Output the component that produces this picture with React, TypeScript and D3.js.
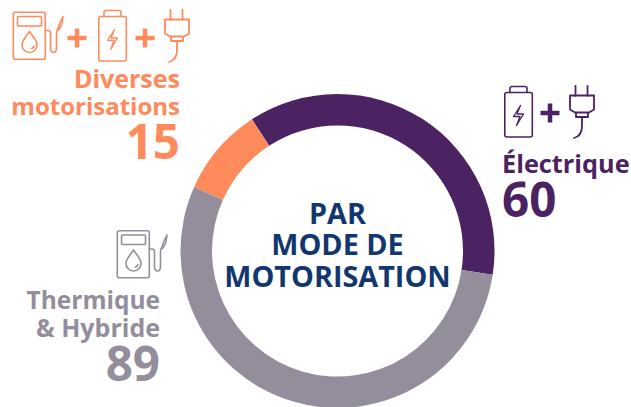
import React from 'react';
import * as d3 from 'd3';

const categories = ['Électrique', 'Thermique & Hybride', 'Diverses motorisations'];
const values = [60, 89, 15];
const colors = ['#4b2362', '#948e9c', '#ff8a5c'];
const titleLines = ['PAR', 'MODE DE', 'MOTORISATION'];

const width = 631;
const height = 407;
const cx = 337.5;
const cy = 251;
const startDeg = -33;

const font = '"Open Sans", sans-serif';

const pieGen = d3
    .pie<number>()
    .sort(null)
    .startAngle((startDeg * Math.PI) / 180)
    .endAngle(((startDeg + 360) * Math.PI) / 180);

const arcGen = d3.arc<d3.PieArcDatum<number>>().innerRadius(125.5).outerRadius(157);

const Pump = ({ x, y, color }) => (
    <g transform={`translate(${x},${y})`} fill='none' stroke={color} strokeWidth={1.6} strokeLinejoin='round' strokeLinecap='round'>
        <rect x={0.8} y={0.8} width={32} height={47} rx={2} />
        <rect x={5} y={5} width={24} height={9.5} rx={1} />
        <path d='M17 20 C13 26 9.5 29 9.5 33.5 a7.5 7.5 0 0 0 15 0 C24.5 29 21 26 17 20 Z' />
        <path d='M19 37 q2 -0.5 2.5 -2.5' />
        <path d='M33 19 h2.5 q2.5 0 2.5 3 v14 q0 5 3 5 q3 0 3 -5 v-14 q0 -3 1.5 -5 l2 -6 l3 -6 l-1 7 l-1.5 3.5 q-1.5 1.5 -2 3' />
    </g>
);

const Battery = ({ x, y, color }) => (
    <g transform={`translate(${x},${y})`} fill='none' stroke={color} strokeWidth={1.6} strokeLinejoin='round' strokeLinecap='round'>
        <rect x={0.8} y={7} width={27.5} height={44.5} rx={2} />
        <path d='M6 7 v-4 q0 -2 2 -2 h13 q2 0 2 2 v4' />
        <path d='M16.5 20 L9.5 31 h6.5 L12.5 40 L19.5 28.5 h-6.5 Z' strokeWidth={1.3} />
    </g>
);

const Plug = ({ x, y, color }) => (
    <g transform={`translate(${x},${y})`} fill='none' stroke={color} strokeWidth={1.8} strokeLinejoin='round' strokeLinecap='round'>
        <path d='M6.5 0.8 v10 M18.5 0.8 v10' />
        <path d='M1 10.5 h24 v14 l-5 3 h-14 l-5 -3 Z' />
        <path d='M7 28 v4 h12 v-4' />
        <path d='M13 32 v9 q0 10 -8 12' />
    </g>
);

const Plus = ({ x, y, color }) => (
    <path
        d={`M${x - 9.5} ${y} h19 M${x} ${y - 9.5} v19`}
        fill='none'
        stroke={color}
        strokeWidth={4.5}
    />
);

const App = () => {
    const arcs = pieGen(values);
    return (
        <svg width={width} height={height} style={{ position: 'absolute', left: 0, top: 0, background: '#fff' }}>
            <g transform={`translate(${cx},${cy})`}>
                {arcs.map((d, i) => (
                    <path key={categories[i]} d={arcGen(d)} fill={colors[i]} />
                ))}
            </g>

            <g fontFamily={font} fontWeight={700} fill='#12376e' fontSize={28.8} textAnchor='middle'>
                {titleLines.map((t, i) => (
                    <text key={t} x={337.5} y={223.5 + i * 31.5}>{t}</text>
                ))}
            </g>

            <Pump x={12.5} y={11.5} color={colors[2]} />
            <Plus x={77} y={38} color={colors[2]} />
            <Battery x={98} y={9.5} color={colors[2]} />
            <Plus x={145} y={38} color={colors[2]} />
            <Plug x={164} y={9} color={colors[2]} />
            <g fontFamily={font} fontWeight={700} fill={colors[2]} textAnchor='end'>
                <text x={180} y={88} fontSize={25}>Diverses</text>
                <text x={180} y={115} fontSize={24}>motorisations</text>
                <text x={180} y={159} fontSize={47.5}>{values[2]}</text>
            </g>

            <Battery x={504} y={85.5} color={colors[0]} />
            <Plus x={550} y={113} color={colors[0]} />
            <Plug x={569} y={85} color={colors[0]} />
            <g fontFamily={font} fontWeight={700} fill={colors[0]}>
                <text x={502} y={173} fontSize={25.3}>Électrique</text>
                <text x={502} y={217} fontSize={47.5}>{values[0]}</text>
            </g>

            <Pump x={116.5} y={230} color={colors[1]} />
            <g fontFamily={font} fontWeight={700} fill={colors[1]} textAnchor='end'>
                <text x={160} y={309} fontSize={24.5}>Thermique</text>
                <text x={160} y={337} fontSize={25}>&amp; Hybride</text>
                <text x={160} y={381} fontSize={47.5}>{values[1]}</text>
            </g>
        </svg>
    );
};

export default App;
